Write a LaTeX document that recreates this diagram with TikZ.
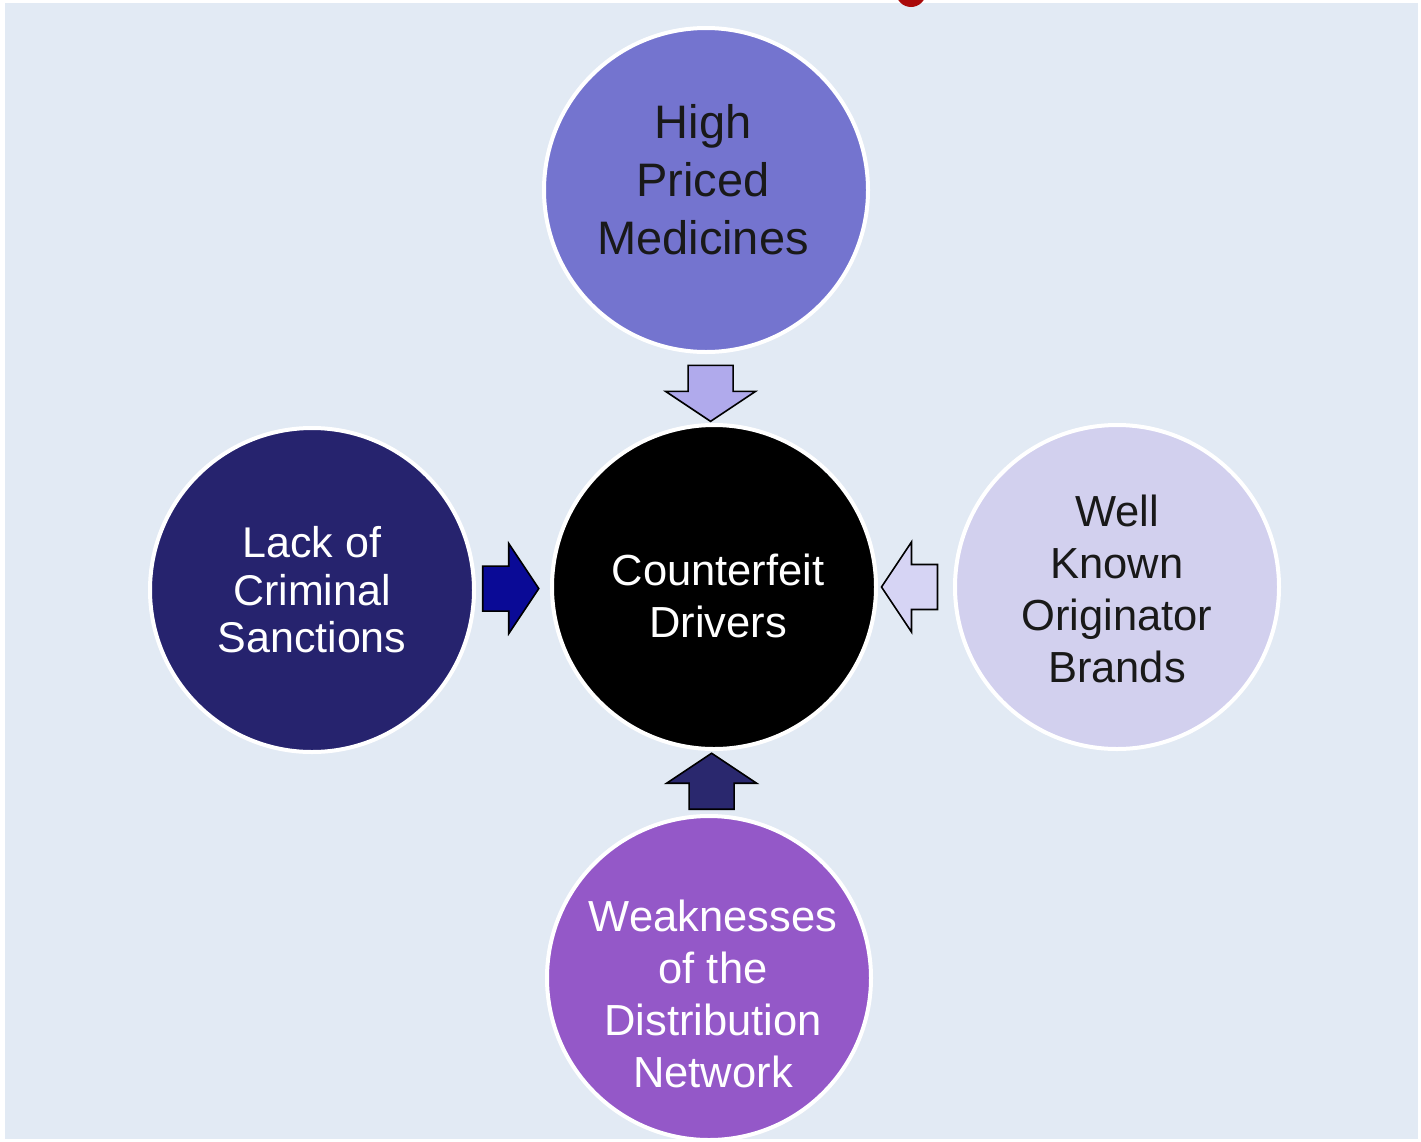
\documentclass[tikz,border=0pt]{standalone}
\usepackage{fontspec}
\setmainfont{Liberation Sans}
\usetikzlibrary{calc}
\definecolor{Bg-0}{RGB}{226,234,244}
\definecolor{Disc-1}{RGB}{116,116,207}
\definecolor{Disc-2}{RGB}{38,35,110}
\definecolor{Disc-3}{RGB}{210,208,238}
\definecolor{Disc-4}{RGB}{148,88,200}
\definecolor{Arr-1}{RGB}{176,170,236}
\definecolor{Arr-2}{RGB}{10,10,150}
\definecolor{Arr-3}{RGB}{214,212,244}
\definecolor{Arr-4}{RGB}{42,40,110}
\definecolor{Dot-1}{RGB}{170,10,10}
\tikzset{ disc/.style ={draw=white, line width=4pt, circle, minimum size=324pt, inner sep=0pt} }
\tikzset{ lbl/.style  ={align=center, inner sep=0pt, font=\fontsize{43.5}{52}\selectfont} }
\tikzset{ lblbig/.style={align=center, inner sep=0pt, font=\fontsize{47}{58}\selectfont} }
\tikzset{ blockarr/.pic={
    \draw[pic actions, draw=black, line width=1.6pt, line join=miter]
      (-28,-22.5) -- (-2,-22.5) -- (-2,-45) -- (28,0) -- (-2,45) -- (-2,22.5) -- (-28,22.5) -- cycle;
} }

\begin{document}
\begin{tikzpicture}[x=1pt, y=-1pt]
    % page and background
    \useasboundingbox[fill=white] (0,0) rectangle (1421,1141);
    \fill[Bg-0] (5,3) rectangle (1418,1139);
    \fill[Dot-1] (911,-8) circle (15);

    \node[disc, fill=Disc-1] (n_top)   at ( 706, 190) {};
    \node[disc, fill=black ] (n_mid)   at ( 714, 587) {};
    \node[disc, fill=Disc-2] (n_left)  at ( 312, 590) {};
    \node[disc, fill=Disc-3] (n_right) at (1117, 587) {};
    \node[disc, fill=Disc-4] (n_bot)   at ( 709, 978) {};

    \node[lblbig, text=black!90] (t_top)   at ([xshift=-3pt, yshift=10pt]n_top) {High\\Priced\\Medicines};
    \node[lbl,    text=white   ] (t_mid)   at ([xshift=4pt, yshift=-9pt]n_mid)  {Counterfeit\\Drivers};
    \node[lbl,    text=white, font=\fontsize{43}{47.5}\selectfont]
                                 (t_left)  at (n_left)                          {Lack of\\Criminal\\Sanctions};
    \node[lbl,    text=black!90] (t_right) at ([yshift=-2pt]n_right)            {Well\\Known\\Originator\\Brands};
    \node[lbl,    text=white   ] (t_bot)   at ([xshift=4pt, yshift=-16pt]n_bot) {Weaknesses\\of the\\Distribution\\Network};

    % block arrows into the centre
    \pic[rotate=-90, fill=Arr-1] at ($(n_top.south)!0.57!(n_mid.north)$)   {blockarr};
    \pic[rotate=0,   fill=Arr-2] at ($(n_left.east)!0.47!(n_mid.west)$)    {blockarr};
    \pic[rotate=180, fill=Arr-3] at ($(n_right.west)!0.58!(n_mid.east)$)   {blockarr};
    \pic[rotate=90,  fill=Arr-4] at ($(n_bot.north)!0.52!(n_mid.south)$)   {blockarr};
\end{tikzpicture}
\end{document}
